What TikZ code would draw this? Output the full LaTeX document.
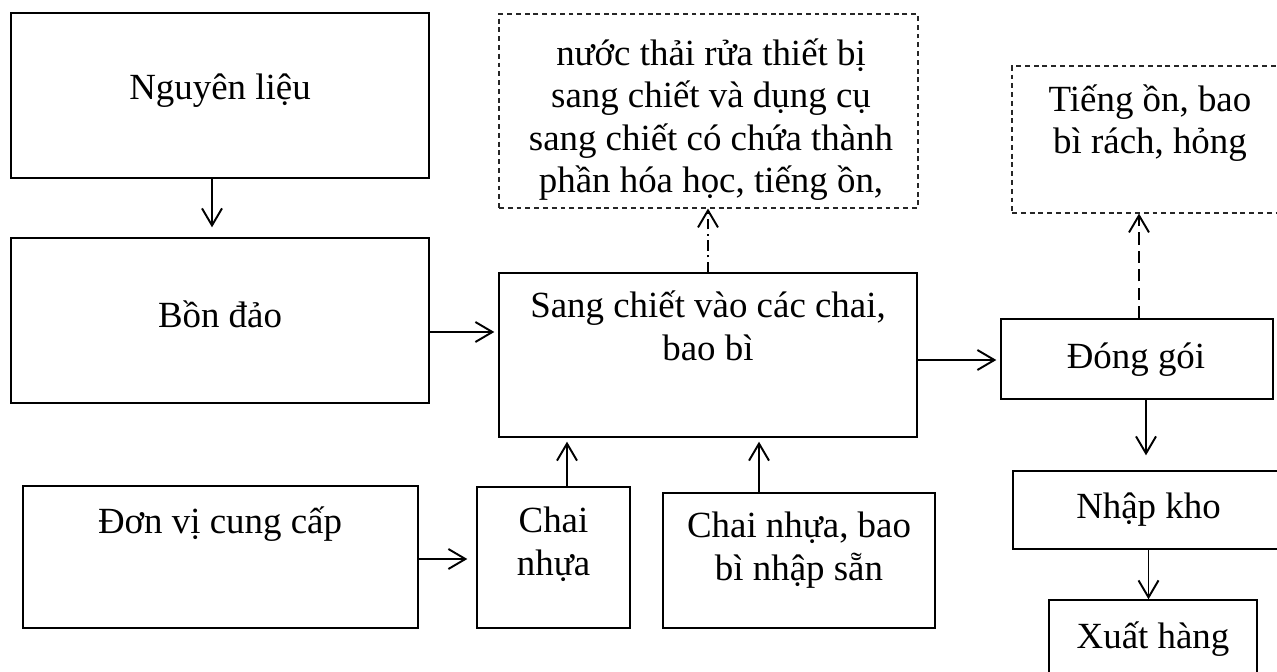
\documentclass[tikz,border=0pt]{standalone}
\usepackage{fontspec}
\setmainfont{Liberation Serif}
\usetikzlibrary{arrows.meta,calc}

\tikzset{
  box/.style 2 args={draw, line width=0.8pt, inner sep=0pt,
    minimum width=#1*0.02cm, minimum height=#2*0.02cm},
  nbox/.style 2 args={box={#1}{#2}, draw=black!85, line width=0.6pt,
    dash pattern=on 2.8pt off 2.2pt},
  txt/.style={anchor=base, align=center, inner sep=0pt,
    font=\fontsize{21}{24.2}\selectfont},
  arr/.style={line width=1.1pt, -{Straight Barb[length=3.4mm,width=4mm]}},
}

\begin{document}
\begin{tikzpicture}[x=0.02cm,y=-0.02cm]

\useasboundingbox (0,0) rectangle (1277,672);
\clip (0,0) rectangle (1277,672);

% ---- Left column ----
\node[box={418}{165}] (ngl) at (220,95.5) {};
\node[txt] (ngl-t) at (220,100) {Nguyên liệu};

\node[box={418}{165}] (bon) at (220,320.5) {};
\node[txt] (bon-t) at (220,327) {Bồn đảo};

\node[box={395}{142}] (dvcc) at (220.5,557) {};
\node[txt] (dvcc-t) at (220,533) {Đơn vị cung cấp};

% ---- Middle (base = last line) ----
\node[nbox={419}{194}] (nt) at (708.5,111) {};
\node[txt] (nt-t) at (711,193) {nước thải rửa thiết bị\\sang chiết và dụng cụ\\sang chiết có chứa thành\\phần hóa học, tiếng ồn,};

\node[box={418}{164}] (sc) at (708,355) {};
\node[txt] (sc-t) at (708,360) {Sang chiết vào các chai,\\bao bì};

\node[box={153}{141}] (cn) at (553.5,557.5) {};
\node[txt] (cn-t) at (553.5,575) {Chai\\nhựa};

\node[box={272}{135}] (cnb) at (799,560.5) {};
\node[txt] (cnb-t) at (799,580) {Chai nhựa, bao\\bì nhập sẵn};

% ---- Right column ----
\node[nbox={278}{147}] (tn) at (1151,139.5) {};
\node[txt] (tn-t) at (1150,154) {Tiếng ồn, bao\\bì rách, hỏng};

\node[box={272}{80}] (dg) at (1137,359) {};
\node[txt] (dg-t) at (1136,368) {Đóng gói};

\node[box={271}{78}] (nk) at (1148.5,510) {};
\node[txt] (nk-t) at (1148.5,518) {Nhập kho};

\node[box={208}{100}] (xh) at (1153,650) {};
\node[txt] (xh-t) at (1153,648) {Xuất hàng};

% ---- Arrows ----
\draw[arr, shorten >=2mm] ([xshift=-1.6mm]ngl.south) coordinate (p1) -- (p1 |- bon.north);
\draw[arr, shorten >=0.8mm] ($(bon.east)+(0,11.5)$) coordinate (p2) -- (p2 -| sc.west);
\draw[arr, shorten >=1.8mm] ($(dvcc.east)+(0,2)$) coordinate (p3) -- (p3 -| cn.west);
\draw[arr, shorten >=0.8mm] ([xshift=2.7mm]cn.north) coordinate (p4) -- (p4 |- sc.south);
\draw[arr, shorten >=0.8mm] ([xshift=-8mm]cnb.north) coordinate (p5) -- (p5 |- sc.south);
\draw[arr, shorten >=0.8mm] ($(sc.east)+(0,5)$) coordinate (p6) -- (p6 -| dg.west);
\draw[arr, shorten >=3mm] ([xshift=1.8mm]dg.south) coordinate (p7) -- (p7 |- nk.north);
\draw[arr] (nk.south) -- (nk.south |- xh.north);

% dashed outputs
\draw[arr, dash pattern=on 6pt off 2.5pt on 1.2pt off 2.5pt] (sc.north) -- (sc.north |- nt.south);
\draw[arr, dash pattern=on 7pt off 3.5pt] ([xshift=0.4mm]dg.north) coordinate (p8) -- (p8 |- tn.south);

\end{tikzpicture}
\end{document}
